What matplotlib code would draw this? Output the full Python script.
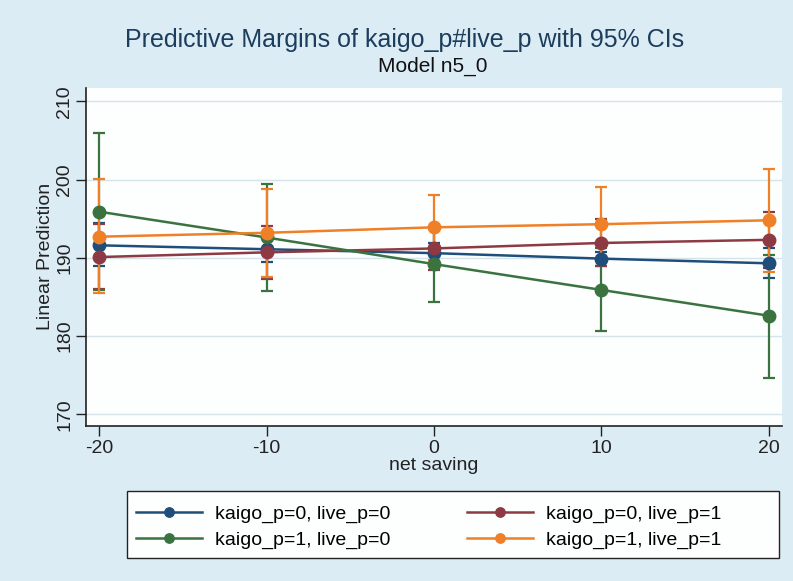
import matplotlib
matplotlib.use('Agg')
import matplotlib.pyplot as plt
from matplotlib.patches import Rectangle
import numpy as np

plt.rcParams['font.family'] = ['Liberation Sans', 'DejaVu Sans']
plt.rcParams['axes.unicode_minus'] = False

net_saving = [-20, -10, 0, 10, 20]

labels = ['kaigo_p=0, live_p=0', 'kaigo_p=0, live_p=1',
          'kaigo_p=1, live_p=0', 'kaigo_p=1, live_p=1']

# margins and 95% CI bounds
m00 = [191.6, 191.1, 190.6, 189.9, 189.3]
lo00 = [189.0, 189.5, 189.3, 188.9, 187.4]
hi00 = [194.5, 192.7, 191.9, 190.8, 191.2]

m01 = [190.1, 190.7, 191.2, 191.9, 192.3]
lo01 = [186.0, 187.3, 188.5, 188.9, 188.7]
hi01 = [194.3, 194.1, 193.9, 194.9, 195.9]

m10 = [195.9, 192.6, 189.2, 185.9, 182.6]
lo10 = [185.9, 185.8, 184.4, 180.6, 174.7]
hi10 = [205.9, 199.4, 194.0, 191.2, 190.4]

m11 = [192.7, 193.2, 193.9, 194.3, 194.8]
lo11 = [185.5, 187.6, 189.7, 189.6, 188.2]
hi11 = [200.1, 198.8, 198.0, 199.0, 201.3]

colors = ['#1f4e7a', '#8e3a44', '#3a7340', '#ef8028']
series = [(m00, lo00, hi00), (m01, lo01, hi01), (m10, lo10, hi10), (m11, lo11, hi11)]

bg = '#dcecf5'
W, H = 793, 581
fig = plt.figure(figsize=(7.93, 5.81), dpi=100, facecolor=bg)
ax = fig.add_axes([0.1084, 0.2673, 0.8773, 0.5812])
ax.set_facecolor('#fdfefe')

x = np.array(net_saving)
for (m, lo, hi), c in zip(series, colors):
    m = np.array(m)
    yerr = [m - np.array(lo), np.array(hi) - m]
    ax.errorbar(x, m, yerr=yerr, fmt='none', ecolor=c, elinewidth=1.6,
                capsize=4, capthick=1.6, zorder=2)
handles = []
for (m, lo, hi), c, lab in zip(series, colors, labels):
    h, = ax.plot(x, m, '-o', color=c, lw=1.8, ms=9, label=lab, zorder=3)
    handles.append(h)

ax.set_xlim(-20.78, 20.76)
ax.set_ylim(168.55, 211.7)
ax.set_xticks(net_saving)
ax.set_yticks([170, 180, 190, 200, 210])
ax.set_yticklabels(['170', '180', '190', '200', '210'], rotation=90, va='center')
ax.tick_params(labelsize=14, length=7, width=1, color='#222222', labelcolor='#222222')
ax.tick_params(axis='y', pad=2)
ax.tick_params(axis='x', pad=3)
ax.grid(axis='y', color='#d4e4ea', lw=1)
ax.set_axisbelow(True)
for s in ['top', 'right']:
    ax.spines[s].set_visible(False)
for s in ['left', 'bottom']:
    ax.spines[s].set_color('#222222')
    ax.spines[s].set_linewidth(1.2)

ax.set_ylabel('Linear Prediction', fontsize=14, color='#222222', labelpad=2)
ax.set_xlabel('net saving', fontsize=14, color='#222222', labelpad=0)

fig.text(405 / W, 1 - 40 / H, 'Predictive Margins of kaigo_p#live_p with 95% CIs',
         ha='center', va='center', fontsize=18, color='#1c3d5c')
fig.text(433 / W, 1 - 66 / H, 'Model n5_0', ha='center', va='center',
         fontsize=15, color='#111111')

# legend box (Stata leaves room on the right)
fig.patches.append(Rectangle((127 / W, 1 - 558 / H), 652 / W, 67 / H,
                             transform=fig.transFigure, facecolor='#fdfefe',
                             edgecolor='#222222', lw=1.0, zorder=-1))

# row-major legend order like Stata
order = [0, 2, 1, 3]
leg = ax.legend([handles[i] for i in order], [labels[i] for i in order],
                loc='center left', bbox_to_anchor=(122 / W, 1 - 527 / H),
                bbox_transform=fig.transFigure, ncol=2, fontsize=14,
                frameon=False, handlelength=3.4, markerscale=0.75,
                columnspacing=3.9, handletextpad=0.7, borderpad=0.2,
                labelspacing=0.42)

fig.savefig('out.png', dpi=100, facecolor=bg)
